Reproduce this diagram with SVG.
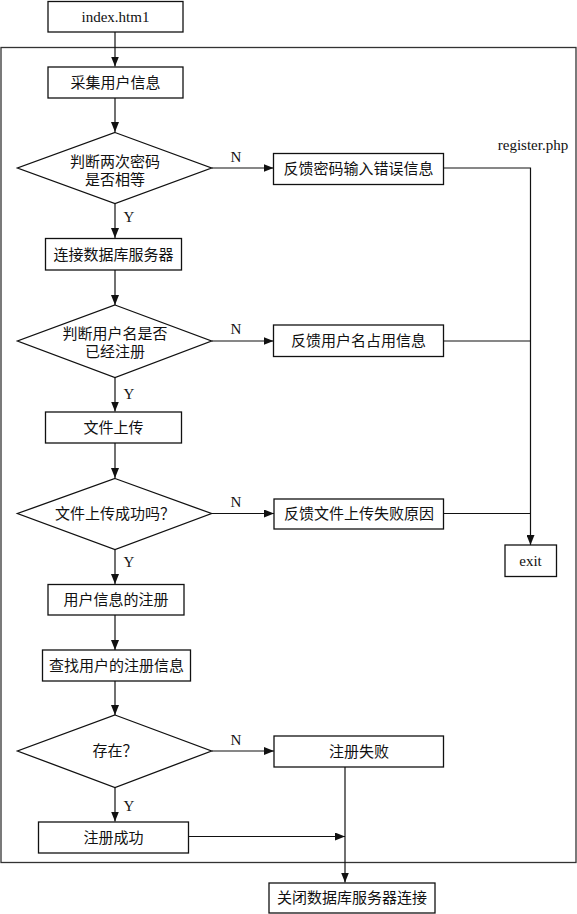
<svg xmlns="http://www.w3.org/2000/svg" width="577" height="914" viewBox="0 0 577 914">
<style>
.b{fill:#fff;stroke:#111;stroke-width:1.3}
.f{fill:none;stroke:#333;stroke-width:1.3}
.c{fill:none;stroke:#111;stroke-width:1.2}
text{font-family:"Liberation Serif","Noto Sans CJK SC",serif;font-size:15px;fill:#111;text-anchor:middle;dominant-baseline:central}
</style>
<defs>
<marker id="a" viewBox="0 0 10 8" refX="10" refY="4" markerWidth="10" markerHeight="8" markerUnits="userSpaceOnUse" orient="auto">
<path d="M0,0L10,4L0,8Z" fill="#111"/>
</marker>
</defs>
<rect id="frame" class="f" x="1" y="47.5" width="575" height="815"/>
<text id="register-label" x="533" y="145">register.php</text>
<g id="connectors">
<path class="c" d="M115,32V66.5" marker-end="url(#a)"/>
<path class="c" d="M115,98V132" marker-end="url(#a)"/>
<path class="c" d="M115,203V238" marker-end="url(#a)"/>
<path class="c" d="M115,270V305" marker-end="url(#a)"/>
<path class="c" d="M115,377V411.5" marker-end="url(#a)"/>
<path class="c" d="M115,443V478" marker-end="url(#a)"/>
<path class="c" d="M115,549V584" marker-end="url(#a)"/>
<path class="c" d="M115,615V650" marker-end="url(#a)"/>
<path class="c" d="M115,681V715" marker-end="url(#a)"/>
<path class="c" d="M115,788V821.5" marker-end="url(#a)"/>
<path class="c" d="M211.5,168H273.5" marker-end="url(#a)"/>
<path class="c" d="M211.5,341H273.5" marker-end="url(#a)"/>
<path class="c" d="M211.5,513.5H274" marker-end="url(#a)"/>
<path class="c" d="M211.5,751H274" marker-end="url(#a)"/>
<path class="c" d="M443.5,168H530.5V545" marker-end="url(#a)"/>
<path class="c" d="M443.5,341H530.5"/>
<path class="c" d="M443.5,513.5H530.5"/>
<path class="c" d="M188.5,836.5H345" marker-end="url(#a)"/>
<path class="c" d="M345,767V882.5" marker-end="url(#a)"/>
<text x="236" y="157">N</text>
<text x="236" y="329">N</text>
<text x="236" y="502">N</text>
<text x="236" y="740">N</text>
<text x="129" y="217">Y</text>
<text x="129" y="394">Y</text>
<text x="129" y="562">Y</text>
<text x="129" y="806">Y</text>
</g>
<g id="n-index"><rect class="b" x="48" y="1.5" width="135" height="30.5"/><text x="115.5" y="17">index.htm1</text></g>
<g id="n-collect"><rect class="b" x="48" y="67" width="135" height="31"/><text x="115.5" y="82.5">采集用户信息</text></g>
<g id="n-d1"><path class="b" d="M115,132.5L211.5,168L115,203.5L17.5,168Z"/><text x="115" y="161.5">判断两次密码</text><text x="115" y="180">是否相等</text></g>
<g id="n-pwerr"><rect class="b" x="273.5" y="153.5" width="170" height="31"/><text x="358.5" y="169">反馈密码输入错误信息</text></g>
<g id="n-connect"><rect class="b" x="45.5" y="238.5" width="136" height="31.5"/><text x="113.5" y="254.5">连接数据库服务器</text></g>
<g id="n-d2"><path class="b" d="M115,305L211.5,341L115,377.5L17.5,341Z"/><text x="115" y="333.5">判断用户名是否</text><text x="115" y="352">已经注册</text></g>
<g id="n-userr"><rect class="b" x="273.5" y="325" width="170" height="31.5"/><text x="358.5" y="341">反馈用户名占用信息</text></g>
<g id="n-upload"><rect class="b" x="45.5" y="412" width="136" height="31"/><text x="113.5" y="427.5">文件上传</text></g>
<g id="n-d3"><path class="b" d="M115,478.5L211.5,513.5L115,549.5L17.5,513.5Z"/><text x="115" y="513.5">文件上传成功吗？</text></g>
<g id="n-upfail"><rect class="b" x="274" y="499" width="169.5" height="30"/><text x="359" y="514">反馈文件上传失败原因</text></g>
<g id="n-exit"><rect class="b" x="505" y="545" width="51.5" height="31.5"/><text x="530.5" y="561">exit</text></g>
<g id="n-reg"><rect class="b" x="48" y="584.5" width="136" height="30.5"/><text x="116" y="600">用户信息的注册</text></g>
<g id="n-find"><rect class="b" x="42.5" y="650" width="148" height="31"/><text x="116.5" y="665.5">查找用户的注册信息</text></g>
<g id="n-d4"><path class="b" d="M115,715L211.5,751L115,787.5L17.5,751Z"/><text x="115" y="751">存在？</text></g>
<g id="n-regfail"><rect class="b" x="274" y="736" width="169.5" height="31"/><text x="359" y="751.5">注册失败</text></g>
<g id="n-regok"><rect class="b" x="38.5" y="822" width="150" height="31"/><text x="113.5" y="837.5">注册成功</text></g>
<g id="n-close"><rect class="b" x="269" y="883" width="166" height="30"/><text x="352" y="898">关闭数据库服务器连接</text></g>
</svg>
